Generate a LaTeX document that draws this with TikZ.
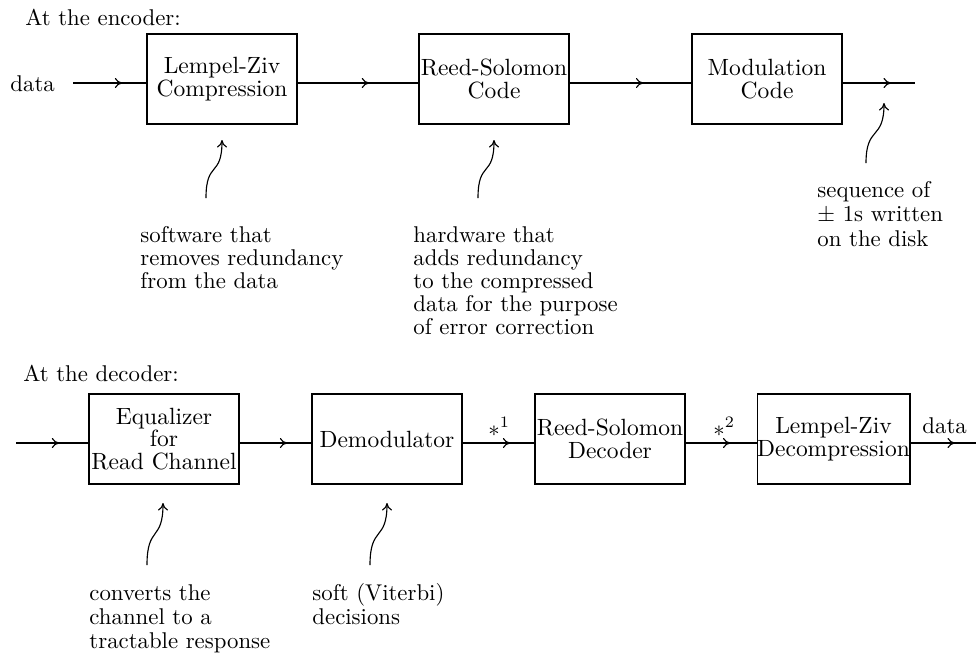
\documentclass[tikz,border=0pt]{standalone}
\usetikzlibrary{arrows.meta,decorations.markings,calc}
\begin{document}
\begin{tikzpicture}[x=0.4386pt,y=-0.4386pt,
  blk/.style={draw,line width=0.6pt,minimum width=65.8pt,minimum height=39.5pt,inner sep=0pt,align=center,font=\fontsize{10.3pt}{11pt}\selectfont},
  lbl/.style={inner sep=0pt,anchor=base west,align=left},
  wire/.style={line width=0.5pt},
  tipat/.style={wire,postaction={decorate,decoration={markings,mark=at position #1 with {\arrow{To[length=3.3pt,width=4.4pt]}}}}},
  note/.style={line width=0.5pt,-{To[length=3.3pt,width=4.4pt]}}
]
\useasboundingbox (0,0) rectangle (976,656);
% ---------- encoder ----------
\node[lbl] (enc) at (25,25) {At the encoder:};
\node[lbl] (din) at (10,91) {data};
\node[blk] (lz) at (222,79) {Lempel-Ziv\\[-1pt]Compression};
\node[blk] (rs) at (494,79) {Reed-Solomon\\[-1pt]Code};
\node[blk] (mod) at (767,79) {Modulation\\[-1pt]Code};
\coordinate (t0) at (73,83);
\coordinate (t1) at (915,83);
\draw[tipat=-10.5pt] (t0) -- (lz.west |- t0);
\draw[tipat=-21.5pt] (lz.east |- t0) -- (rs.west |- t0);
\draw[tipat=-21pt] (rs.east |- t0) -- (mod.west |- t0);
\draw[tipat=-10.5pt] (mod.east |- t0) -- (t1);
% multi-line labels: base anchor = baseline of the last line
\node[lbl] (n1) at (140,288) {software that\\[-2pt]removes redundancy\\[-2pt]from the data};
\node[lbl] (n2) at (413,334) {hardware that\\[-2pt]adds redundancy\\[-2pt]to the compressed\\[-2pt]data for the purpose\\[-2pt]of error correction};
\node[lbl] (n3) at (817,246) {sequence of\\[-1.4pt]$\pm$ 1s written\\[-1.4pt]on the disk};
\coordinate (c1b) at (206,198); \coordinate (c1t) at (222,140);
\coordinate (c2b) at (478,198); \coordinate (c2t) at (494,140);
\coordinate (c3b) at (866,163); \coordinate (c3t) at (884,103);
\draw[note] (c1b) .. controls (206,160) and (222,178) .. (c1t);
\draw[note] (c2b) .. controls (478,160) and (494,178) .. (c2t);
\draw[note] (c3b) .. controls (866,125) and (884,141) .. (c3t);
% ---------- decoder ----------
\node[lbl] (dec) at (23,381) {At the decoder:};
\node[blk] (eq) at (164,439) {Equalizer\\[-1pt]for\\[-1pt]Read Channel};
\node[blk] (dem) at (387,439) {Demodulator};
\node[blk] (rsd) at (610,439) {Reed-Solomon\\[-1pt]Decoder};
\node[blk] (lzd) at (833.5,439) {Lempel-Ziv\\[-1pt]Decompression};
\coordinate (b0) at (16,443);
\coordinate (b1) at (976,443);
\draw[tipat=-12.7pt] (b0) -- (eq.west |- b0);
\draw[tipat=-10.5pt] (eq.east |- b0) -- (dem.west |- b0);
\draw[tipat=-10.5pt] (dem.east |- b0) -- (rsd.west |- b0);
\draw[tipat=-11.4pt] (rsd.east |- b0) -- (lzd.west |- b0);
\draw[tipat=-9.2pt] (lzd.east |- b0) -- (b1);
\node[lbl] (s1) at (488,436) {$\ast^1$};
\node[lbl] (s2) at (713,436) {$\ast^2$};
\node[lbl] (dout) at (922,433) {data};
\node[lbl] (n4) at (89,648) {converts the\\[-1.5pt]channel to a\\[-1.5pt]tractable response};
\node[lbl] (n5) at (312,624) {soft (Viterbi)\\[-1.5pt]decisions};
\coordinate (c4b) at (147,565); \coordinate (c4t) at (163,503);
\coordinate (c5b) at (370,565); \coordinate (c5t) at (387,503);
\draw[note] (c4b) .. controls (147,525) and (163,542) .. (c4t);
\draw[note] (c5b) .. controls (370,525) and (387,542) .. (c5t);
\end{tikzpicture}
\end{document}
